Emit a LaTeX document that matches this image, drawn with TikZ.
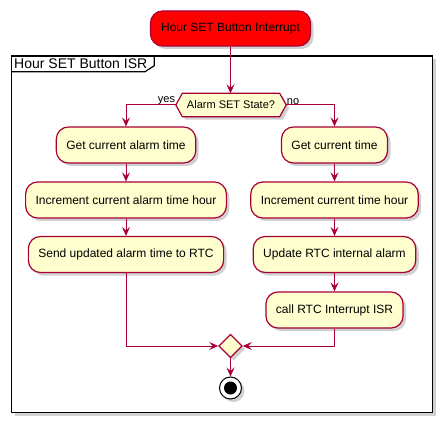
\documentclass[tikz,border=0pt]{standalone}
\usepackage{fontspec}
\setmainfont{Liberation Sans}
\usetikzlibrary{positioning,shapes.geometric,shadows,arrows.meta}
\definecolor{uml-border}{HTML}{A80036}
\definecolor{uml-fill}{HTML}{FEFECE}
\definecolor{uml-start}{HTML}{FF0000}
\pgfdeclarelayer{back}
\pgfdeclarelayer{mid}
\pgfsetlayers{back,mid,main}

\begin{document}
\begin{tikzpicture}[x=1pt, y=-1pt,
  every node/.style={font=\fontsize{12}{14}\selectfont},
  umlshadow/.style={drop shadow={shadow xshift=3pt, shadow yshift=-3pt, opacity=0.3, fill=black!60}},
  action/.style={draw=uml-border, line width=1.2pt, fill=uml-fill, rounded corners=12pt,
    minimum height=36pt, inner xsep=10pt, umlshadow},
  flow/.style={draw=uml-border, line width=1pt, -{Stealth[length=9pt, width=8pt, inset=3.5pt]}},
  small/.style={font=\fontsize{11}{13}\selectfont}]
  \useasboundingbox (0,0) rectangle (448,428);

  % frame round the ISR
  \begin{pgfonlayer}{back}
    \draw[line width=1.5pt, fill=white, umlshadow] (11.5,56) rectangle (432.5,412.5);
    \draw[line width=1.2pt] (11.5,56) -| (154.3,65.7) -- (145,71.7) -- (11.5,71.7);
  \end{pgfonlayer}
  \node[font=\fontsize{14}{16}\selectfont, anchor=west, inner sep=0pt] (title) at (14,64) {Hour SET Button ISR};

  \node[action, fill=uml-start, minimum width=160pt, minimum height=35pt] (start) at (230.5,28.5) {Hour SET Button Interrupt};

  % decision
  \node[small, minimum width=97pt, minimum height=23pt, inner sep=0pt] (dec) at (231,105) {Alarm SET State?};
  \coordinate (decl) at ([xshift=-6.5pt]dec.west);
  \coordinate (decr) at ([xshift=6.5pt]dec.east);
  \begin{pgfonlayer}{mid}
    \draw[draw=uml-border, line width=1.2pt, fill=uml-fill, umlshadow]
      (dec.north west) -- (dec.north east) -- (decr) -- (dec.south east) -- (dec.south west) -- (decl) -- cycle;
  \end{pgfonlayer}
  \node[small, anchor=south east, inner sep=0.5pt] (yeslbl) at (decl) {yes};
  \node[small, anchor=south west, inner sep=0.5pt] (nolbl) at (decr) {no};

  % yes branch
  \node[action] (al1) at (126,145) {Get current alarm time};
  \node[action] (al2) at (126,200) {Increment current alarm time hour};
  \node[action] (al3) at (126,254.5) {Send updated alarm time to RTC};

  % no branch
  \node[action] (rt1) at (334.5,145) {Get current time};
  \node[action] (rt2) at (334.5,200) {Increment current time hour};
  \node[action] (rt3) at (334.5,254.5) {Update RTC internal alarm};
  \node[action] (rt4) at (334.5,310) {call RTC Interrupt ISR};

  \node[diamond, draw=uml-border, line width=1.2pt, fill=uml-fill, aspect=1,
    minimum width=23.4pt, minimum height=23.4pt, inner sep=0pt, umlshadow] (merge) at (230.5,346) {};

  \node[circle, draw=black, line width=1pt, fill=white, minimum size=22pt, inner sep=0pt, umlshadow] (stop) at (230.5,388) {};
  \node[circle, fill=black, minimum size=13pt, inner sep=0pt] (stopdot) at (stop) {};

  \draw[flow] (start.south) -- (start.south |- dec.north);
  \draw[flow] (decl) -| (al1.north);
  \draw[flow] (decr) -| (rt1.north);
  \foreach \a/\b in {al1/al2, al2/al3, rt1/rt2, rt2/rt3, rt3/rt4}
    \draw[flow] (\a) -- (\b);
  \draw[flow] (al3.south) |- (merge.west);
  \draw[flow] (rt4.south) |- (merge.east);
  \draw[flow] (merge.south) -- (stop.north);
\end{tikzpicture}
\end{document}
